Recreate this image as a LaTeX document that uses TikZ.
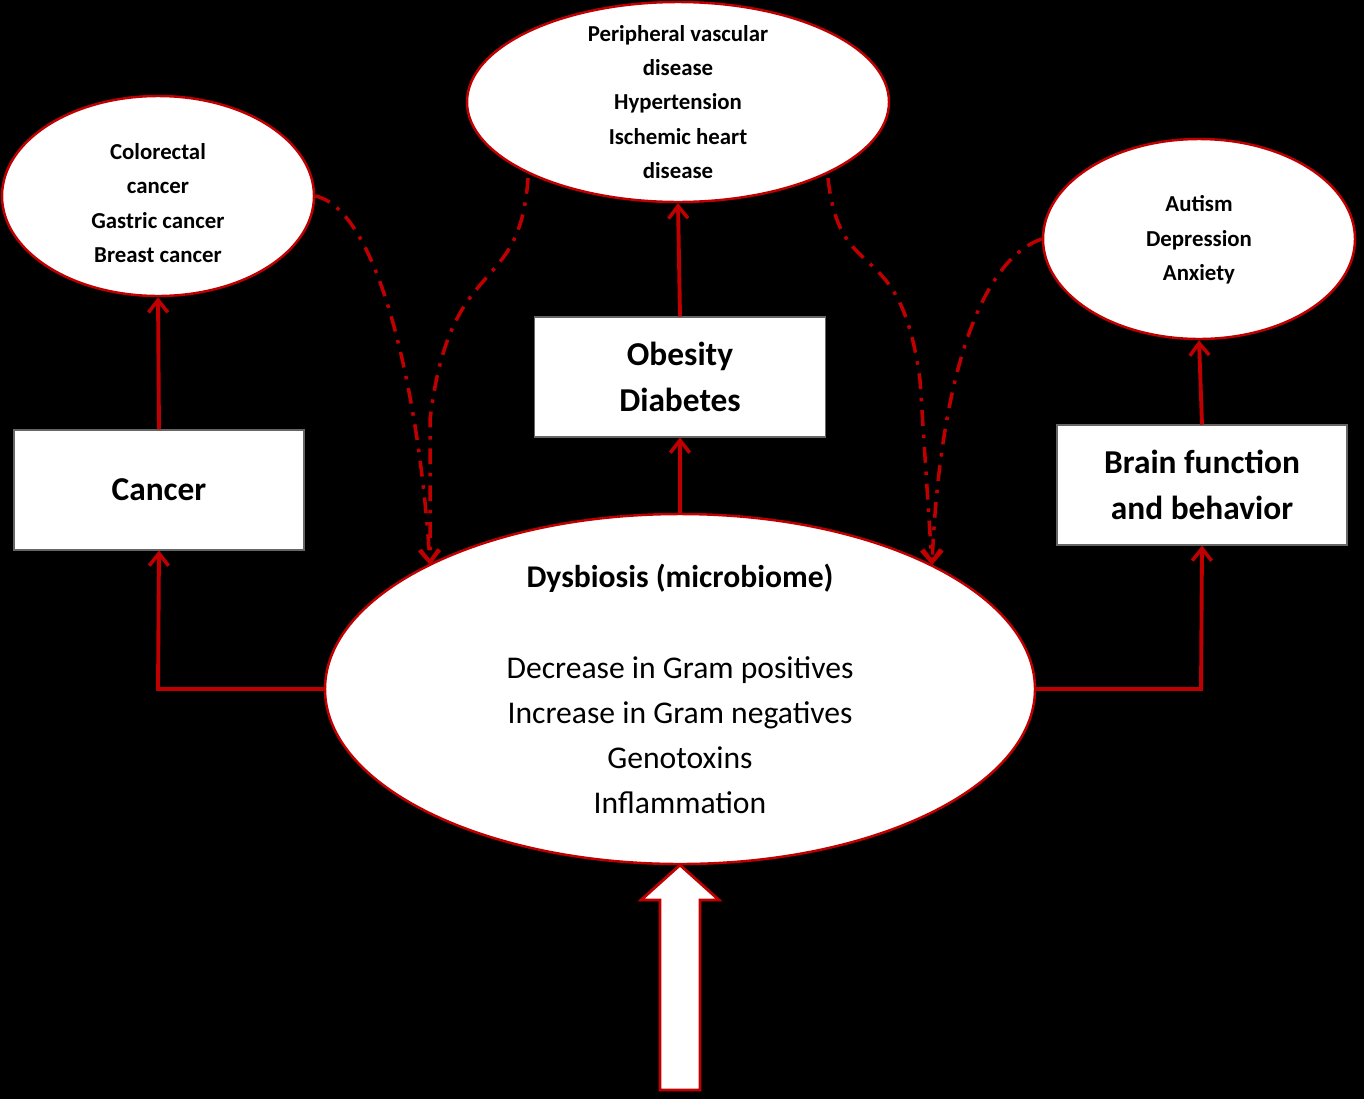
\documentclass[tikz,border=0pt]{standalone}
\usepackage{fontspec}
\setmainfont{Carlito}
\usetikzlibrary{arrows.meta,shapes.geometric}
\definecolor{dr}{HTML}{C00000}
\begin{document}
\begin{tikzpicture}[x=0.02cm,y=-0.02cm,
  ell/.style={ellipse,draw=dr,line width=1.4pt,fill=white,inner sep=0pt,align=center},
  box/.style={rectangle,draw=black!60,line width=0.6pt,fill=white,align=center,font=\fontsize{19}{26}\selectfont\bfseries},
  con/.style={draw=dr,line width=2.2pt,-{Straight Barb[length=7pt,width=11pt,line width=2pt]}},
  dd/.style={draw=dr,line width=2pt,dash pattern=on 9pt off 5pt on 2pt off 5pt,-{Straight Barb[length=7pt,width=11pt,line width=2pt]}},
  st/.style={font=\fontsize{13}{19.5}\selectfont\bfseries}]
\fill[black] (0,0) rectangle (1364,1099);
\node[ell,minimum width=312\pgflinewidth,minimum height=200*0.02cm, minimum width=312*0.02cm] (crc) at (158,196) {};
\node[st,align=center] at (158,203) {Colorectal\\cancer\\Gastric cancer\\Breast cancer};
\node[ell,minimum width=422*0.02cm,minimum height=200*0.02cm] (cv) at (678,102) {};
\node[st,align=center] at (678,102) {Peripheral vascular\\disease\\Hypertension\\Ischemic heart\\disease};
\node[ell,minimum width=312*0.02cm,minimum height=200*0.02cm] (br) at (1199,239) {};
\node[st,align=center] at (1199,240) {Autism\\Depression\\Anxiety};
\node[box,minimum width=290*0.02cm,minimum height=120*0.02cm] (can) at (159,490) {Cancer};
\node[box,minimum width=291*0.02cm,minimum height=120*0.02cm] (ob) at (680,377) {Obesity\\Diabetes};
\node[box,minimum width=290*0.02cm,minimum height=120*0.02cm] (bf) at (1202,485) {Brain function\\and behavior};
\node[ell,minimum width=710*0.02cm,minimum height=350*0.02cm] (dys) at (680,689) {};
\node[align=center,font=\fontsize{18}{25.5}\selectfont] at (680,735) {Decrease in Gram positives\\Increase in Gram negatives\\Genotoxins\\Inflammation};
\node[font=\fontsize{18}{24}\selectfont\bfseries] at (680,578) {Dysbiosis (microbiome)};
\coordinate (d1) at (430,565); \coordinate (d2) at (932,565);
\draw[con] (dys.west) -- (158,689) -- (can.south);
\draw[con] (can.north) -- (crc.south);
\draw[con] (dys.north) -- (ob.south);
\draw[con] (ob.north) -- (cv.south);
\draw[con] (dys.east) -- (1201,689) -- (bf.south);
\draw[con] (bf.north) -- (br.south);
\draw[dd] (crc.east) .. controls (380,210) and (420,400) .. (d1);
\draw[dd] (528,178) .. controls (520,300) and (450,250) .. (430,420) -- (d1);
\draw[dd] (828,178) .. controls (840,290) and (900,230) .. (920,380) -- (d2);
\draw[dd] (br.west) .. controls (980,260) and (940,380) .. (d2);
\draw[draw=dr,line width=1.6pt,fill=white] (660,1090) -- (660,900) -- (641,900) -- (680,865) -- (719,900) -- (700,900) -- (700,1090) -- cycle;
\end{tikzpicture}
\end{document}
